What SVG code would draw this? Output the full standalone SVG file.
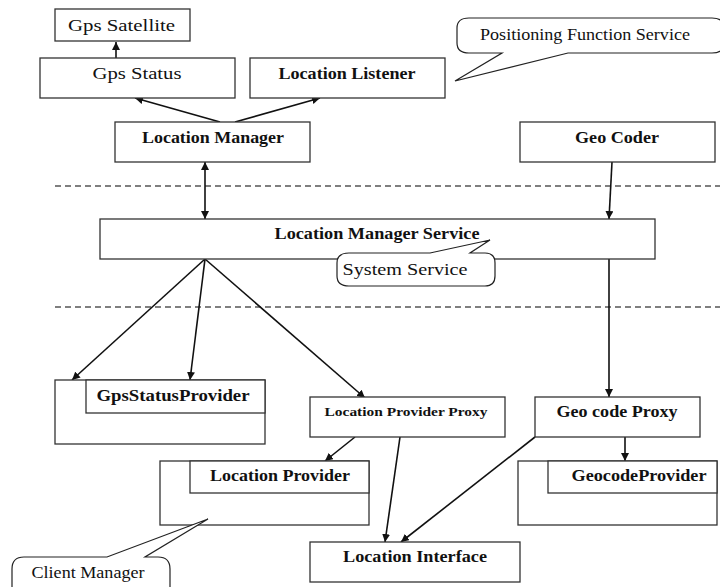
<svg xmlns="http://www.w3.org/2000/svg" width="720" height="587" viewBox="0 0 720 587">
<style>
.box{fill:#fff;stroke:#333;stroke-width:1.3}
.t{font-family:"Liberation Serif","Times New Roman",serif;font-size:16px;fill:#111;text-anchor:middle}
.b{font-weight:bold}
.s{font-size:13px}
.c{fill:#fff;stroke:#222;stroke-width:1.2}
.ln{stroke:#111;stroke-width:1.6;fill:none}
.dash{stroke:#555;stroke-width:1.3;stroke-dasharray:6 4;fill:none}
</style>
<defs>
<marker id="ah" viewBox="0 0 10 10" refX="10" refY="5" markerWidth="8" markerHeight="8" markerUnits="userSpaceOnUse" orient="auto-start-reverse">
<path d="M0,0 L10,5 L0,10 Z" fill="#111"/>
</marker>
</defs>
<g id="separators">
<line class="dash" x1="55" y1="186" x2="720" y2="186"/>
<line class="dash" x1="55" y1="307" x2="720" y2="307"/>
</g>
<g id="connectors">
<line class="ln" x1="116" y1="58" x2="116" y2="42" marker-end="url(#ah)"/>
<line class="ln" x1="220" y1="122" x2="135" y2="98" marker-end="url(#ah)"/>
<line class="ln" x1="235" y1="122" x2="320" y2="98" marker-end="url(#ah)"/>
<line class="ln" x1="205" y1="162" x2="205" y2="219" marker-start="url(#ah)" marker-end="url(#ah)"/>
<line class="ln" x1="612" y1="162" x2="609" y2="219" marker-end="url(#ah)"/>
<line class="ln" x1="205" y1="259" x2="72" y2="380" marker-end="url(#ah)"/>
<line class="ln" x1="205" y1="259" x2="190" y2="380" marker-end="url(#ah)"/>
<line class="ln" x1="205" y1="259" x2="365" y2="398" marker-end="url(#ah)"/>
<line class="ln" x1="609" y1="259" x2="609" y2="397" marker-end="url(#ah)"/>
<line class="ln" x1="355" y1="437" x2="325" y2="461" marker-end="url(#ah)"/>
<line class="ln" x1="400" y1="437" x2="385" y2="542" marker-end="url(#ah)"/>
<line class="ln" x1="535" y1="437" x2="401" y2="542" marker-end="url(#ah)"/>
<line class="ln" x1="625" y1="437" x2="625" y2="461" marker-end="url(#ah)"/>
</g>
<g id="gps-satellite">
<rect class="box" x="55" y="9" width="135" height="32"/>
<text class="t" x="121.5" y="31" textLength="107" lengthAdjust="spacingAndGlyphs">Gps Satellite</text>
</g>
<g id="gps-status">
<rect class="box" x="40" y="58" width="195" height="40"/>
<text class="t" x="137" y="79" textLength="89" lengthAdjust="spacingAndGlyphs">Gps Status</text>
</g>
<g id="location-listener">
<rect class="box" x="250" y="58" width="195" height="40"/>
<text class="t b" x="347" y="79" textLength="137" lengthAdjust="spacingAndGlyphs">Location Listener</text>
</g>
<g id="positioning-callout">
<path class="c" d="M568,53 L712,53 Q724,53 724,43 L724,28 Q724,18 712,18 L469,18 Q457,18 457,28 L457,43 Q457,53 469,53 L502,53 L455,81 Z"/>
<text class="t" x="585" y="40" font-size="14" textLength="210" lengthAdjust="spacingAndGlyphs">Positioning Function Service</text>
</g>
<g id="location-manager">
<rect class="box" x="115" y="122" width="195" height="40"/>
<text class="t b" x="213" y="143" textLength="142" lengthAdjust="spacingAndGlyphs">Location Manager</text>
</g>
<g id="geo-coder">
<rect class="box" x="520" y="122" width="195" height="40"/>
<text class="t b" x="617" y="143" textLength="84" lengthAdjust="spacingAndGlyphs">Geo Coder</text>
</g>
<g id="location-manager-service">
<rect class="box" x="100" y="219" width="555" height="40"/>
<text class="t b" x="377" y="239" textLength="205" lengthAdjust="spacingAndGlyphs">Location Manager Service</text>
</g>
<g id="system-service-callout">
<path class="c" d="M349,253 L430,253 L490,240 L470,253 L485,253 Q495,253 495,263 L495,276 Q495,286 485,286 L349,286 Q337,286 337,276 L337,263 Q337,253 349,253 Z"/>
<text class="t" x="405" y="275" font-size="15" textLength="125" lengthAdjust="spacingAndGlyphs">System Service</text>
</g>
<g id="gps-status-provider">
<rect class="box" x="55" y="380" width="210" height="64"/>
<rect class="box" x="86" y="380" width="179" height="33"/>
<text class="t b" x="173" y="401" textLength="153" lengthAdjust="spacingAndGlyphs">GpsStatusProvider</text>
</g>
<g id="location-provider-proxy">
<rect class="box" x="310" y="397" width="195" height="40"/>
<text class="t b s" x="406" y="416" textLength="163" lengthAdjust="spacingAndGlyphs">Location Provider Proxy</text>
</g>
<g id="geo-code-proxy">
<rect class="box" x="535" y="397" width="165" height="40"/>
<text class="t b" x="617" y="417" textLength="121" lengthAdjust="spacingAndGlyphs">Geo code Proxy</text>
</g>
<g id="location-provider">
<rect class="box" x="160" y="461" width="209" height="64"/>
<rect class="box" x="190" y="461" width="179" height="32"/>
<text class="t b" x="280" y="481" textLength="140" lengthAdjust="spacingAndGlyphs">Location Provider</text>
</g>
<g id="geocode-provider">
<rect class="box" x="518" y="461" width="199" height="64"/>
<rect class="box" x="548" y="461" width="169" height="32"/>
<text class="t b" x="639" y="481" textLength="135" lengthAdjust="spacingAndGlyphs">GeocodeProvider</text>
</g>
<g id="location-interface">
<rect class="box" x="310" y="542" width="210" height="40"/>
<text class="t b" x="415" y="562" textLength="144" lengthAdjust="spacingAndGlyphs">Location Interface</text>
</g>
<g id="client-manager-callout">
<path class="c" d="M24,557 L107,557 L208,519 L145,557 L158,557 Q170,557 170,569 L170,592 L12,592 L12,569 Q12,557 24,557 Z"/>
<text class="t" x="88" y="578" font-size="15" textLength="113" lengthAdjust="spacingAndGlyphs">Client Manager</text>
</g>
</svg>
